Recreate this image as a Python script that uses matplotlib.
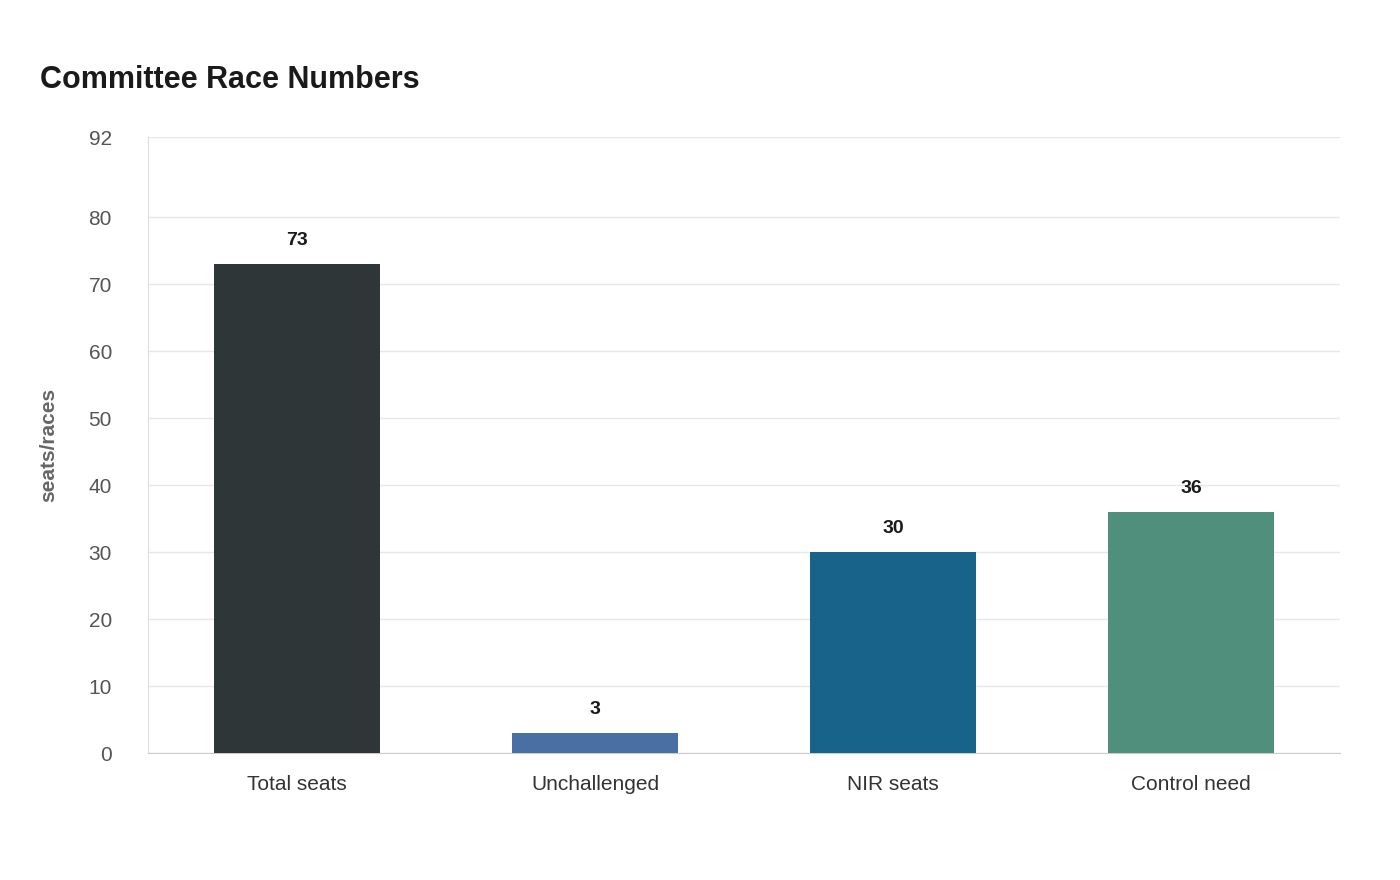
import matplotlib
matplotlib.use("Agg")
import matplotlib.pyplot as plt

categories = ["Total seats", "Unchallenged", "NIR seats", "Control need"]
values = [73, 3, 30, 36]
colors = ["#2e3638", "#4a6fa5", "#17638a", "#4f8f7c"]
yticks = [0, 10, 20, 30, 40, 50, 60, 70, 80, 92]

plt.rcParams['font.family'] = ['Liberation Sans', 'DejaVu Sans']
fig = plt.figure(figsize=(14, 8.8), dpi=100)
ax = fig.add_axes([148/1400, 1-753/880, (1340-148)/1400, (753-137)/880])
x = range(len(categories))
ax.bar(x, values, width=0.557, color=colors, zorder=3)
for i, v in enumerate(values):
    ax.text(i, v + 3.5, str(v), ha='center', va='center', fontsize=14, fontweight='bold', color='#1a1a1a')
ax.set_xlim(-0.5, 3.5)
ax.set_ylim(0, 92)
ax.set_yticks(yticks)
ax.set_xticks(list(x))
ax.set_xticklabels(categories, fontsize=15, color='#333333')
ax.tick_params(axis='y', labelsize=15, labelcolor='#555555', length=0, pad=26)
ax.tick_params(axis='x', length=0, pad=16)
ax.grid(axis='y', color='#e8e8e8', linewidth=1, zorder=0)
for s in ['top', 'right']:
    ax.spines[s].set_visible(False)
ax.spines['left'].set_color('#dddddd')
ax.spines['bottom'].set_color('#cccccc')
ax.set_ylabel('seats/races', fontsize=15, fontweight='bold', color='#666666', labelpad=22)
fig.text(40/1400, 1-80/880, 'Committee Race Numbers', fontsize=22, fontweight='bold', color='#1a1a1a', va='center')
fig.savefig('out.png', dpi=100)
